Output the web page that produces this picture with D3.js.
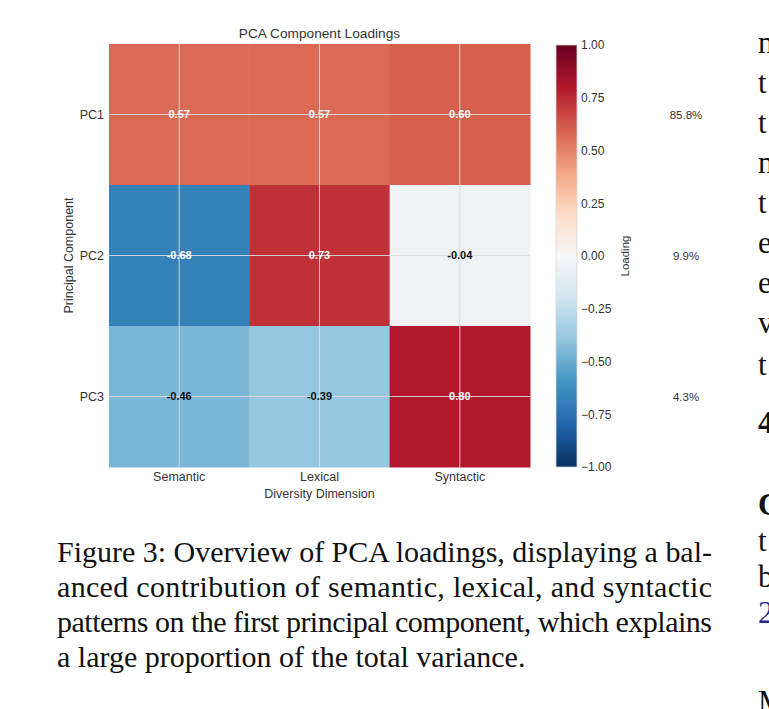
<!DOCTYPE html>
<html>
<head>
<meta charset="utf-8">
<script src="https://cdn.jsdelivr.net/npm/d3@7"></script>
<style>
  html, body { margin: 0; padding: 0; background: #ffffff; }
  svg { display: block; }
</style>
</head>
<body>
<svg id="chart" width="769" height="709"></svg>
<script>
// ---------- data ----------
const dimensions = ["Semantic", "Lexical", "Syntactic"];
const components = ["PC1", "PC2", "PC3"];
const pc1Loadings = [0.57, 0.57, 0.60];
const pc2Loadings = [-0.68, 0.73, -0.04];
const pc3Loadings = [-0.46, -0.39, 0.80];
const explainedVariance = ["85.8%", "9.9%", "4.3%"];
const colorbarTicks = [-1.00, -0.75, -0.50, -0.25, 0.00, 0.25, 0.50, 0.75, 1.00];
const titleText = "PCA Component Loadings";
const xLabel = "Diversity Dimension";
const yLabel = "Principal Component";
const cbLabel = "Loading";
const captionLines = [
  "Figure 3: Overview of PCA loadings, displaying a bal-",
  "anced contribution of semantic, lexical, and syntactic",
  "patterns on the first principal component, which explains",
  "a large proportion of the total variance."
];
const sideLetters = ["n", "t", "t", "n", "t", "e", "e", "v", "t", "4", "C", "t", "b", "2", "M"];

const loadingRows = [pc1Loadings, pc2Loadings, pc3Loadings];
const cells = [];
components.forEach((pc, i) => {
  dimensions.forEach((d, j) => cells.push({ pc, dim: d, value: loadingRows[i][j] }));
});

// ---------- layout ----------
const svg = d3.select("#chart");
const sans = "'Liberation Sans', Arial, sans-serif";
const serif = "'Liberation Serif', 'Times New Roman', serif";
const textColor = "#333333";

const hm = { left: 109, right: 530, top: 44, bottom: 467 };
const x = d3.scaleBand().domain(dimensions).range([hm.left, hm.right]);
const y = d3.scaleBand().domain(components).range([hm.top, hm.bottom]);

// matplotlib RdBu_r
const rdbu = ["#053061", "#2166ac", "#4393c3", "#92c5de", "#d1e5f0", "#f7f7f7",
              "#fddbc7", "#f4a582", "#d6604d", "#b2182b", "#67001f"];
const color = d3.scaleLinear()
  .domain(d3.range(11).map(i => -1 + i * 0.2))
  .range(rdbu)
  .interpolate(d3.interpolateRgb)
  .clamp(true);

// cells
svg.append("g").selectAll("rect").data(cells).join("rect")
  .attr("x", d => x(d.dim))
  .attr("y", d => y(d.pc))
  .attr("width", x.bandwidth() + 0.5)
  .attr("height", y.bandwidth() + 0.5)
  .attr("fill", d => color(d.value));

// grid lines at tick centres
const grid = svg.append("g").attr("stroke", "#dcdcdc").attr("stroke-width", 1).attr("opacity", 0.9);
dimensions.forEach(d => {
  const cx = x(d) + x.bandwidth() / 2;
  grid.append("line").attr("x1", cx).attr("x2", cx).attr("y1", hm.top).attr("y2", hm.bottom);
});
components.forEach(c => {
  const cy = y(c) + y.bandwidth() / 2;
  grid.append("line").attr("x1", hm.left).attr("x2", hm.right).attr("y1", cy).attr("y2", cy);
});

// annotations
svg.append("g").selectAll("text").data(cells).join("text")
  .attr("x", d => x(d.dim) + x.bandwidth() / 2)
  .attr("y", d => y(d.pc) + y.bandwidth() / 2)
  .attr("dy", "0.36em")
  .attr("text-anchor", "middle")
  .attr("font-family", sans)
  .attr("font-weight", "bold")
  .attr("font-size", 11)
  .attr("fill", d => Math.abs(d.value) > 0.5 ? "#ffffff" : "#111111")
  .text(d => d3.format(".2f")(d.value).replace("\u2212", "-"));

// axes
const yAxis = svg.append("g")
  .attr("transform", `translate(${hm.left},0)`)
  .call(d3.axisLeft(y).tickSize(0).tickPadding(5));
yAxis.select(".domain").remove();
yAxis.selectAll("text").attr("font-family", sans).attr("font-size", 12.5).attr("fill", textColor);

const xAxis = svg.append("g")
  .attr("transform", `translate(0,${hm.bottom})`)
  .call(d3.axisBottom(x).tickSize(0).tickPadding(5));
xAxis.select(".domain").remove();
xAxis.selectAll("text").attr("font-family", sans).attr("font-size", 12.5).attr("fill", textColor);

// title and labels
svg.append("text")
  .attr("x", (hm.left + hm.right) / 2).attr("y", 38)
  .attr("text-anchor", "middle")
  .attr("font-family", sans).attr("font-size", 13.7).attr("fill", textColor)
  .text(titleText);

svg.append("text")
  .attr("x", (hm.left + hm.right) / 2).attr("y", 498)
  .attr("text-anchor", "middle")
  .attr("font-family", sans).attr("font-size", 12.5).attr("fill", textColor)
  .text(xLabel);

svg.append("text")
  .attr("transform", `translate(73,${(hm.top + hm.bottom) / 2}) rotate(-90)`)
  .attr("text-anchor", "middle")
  .attr("font-family", sans).attr("font-size", 12.5).attr("fill", textColor)
  .text(yLabel);

// colorbar
const cb = { left: 556, width: 21, top: 45, bottom: 467 };
const cbScale = d3.scaleLinear().domain([-1, 1]).range([cb.bottom, cb.top]);
const defs = svg.append("defs");
const grad = defs.append("linearGradient").attr("id", "cbgrad")
  .attr("x1", 0).attr("y1", 1).attr("x2", 0).attr("y2", 0);
d3.range(0, 1.0001, 0.02).forEach(t => {
  grad.append("stop").attr("offset", t).attr("stop-color", color(-1 + 2 * t));
});
svg.append("rect")
  .attr("x", cb.left).attr("y", cb.top)
  .attr("width", cb.width).attr("height", cb.bottom - cb.top)
  .attr("fill", "url(#cbgrad)")
  .attr("stroke", "#d8d8d8").attr("stroke-width", 0.8);

const cbAxis = svg.append("g")
  .attr("transform", `translate(${cb.left + cb.width},0)`)
  .call(d3.axisRight(cbScale).tickValues(colorbarTicks).tickFormat(d3.format(".2f")).tickSize(0).tickPadding(4));
cbAxis.select(".domain").remove();
cbAxis.selectAll("text").attr("font-family", sans).attr("font-size", 12).attr("fill", textColor);

svg.append("text")
  .attr("transform", `translate(629,${(cb.top + cb.bottom) / 2}) rotate(-90)`)
  .attr("text-anchor", "middle")
  .attr("font-family", sans).attr("font-size", 11.5).attr("fill", textColor)
  .text(cbLabel);

// explained variance
svg.append("g").selectAll("text").data(components).join("text")
  .attr("x", 686)
  .attr("y", d => y(d) + y.bandwidth() / 2)
  .attr("dy", "0.35em")
  .attr("text-anchor", "middle")
  .attr("font-family", sans).attr("font-size", 11.5).attr("fill", textColor)
  .text((d, i) => explainedVariance[i]);

// caption
const capBase = [562, 597, 632, 667];
svg.append("g").selectAll("text").data(captionLines).join("text")
  .attr("x", 57)
  .attr("y", (d, i) => capBase[i])
  .attr("font-family", serif).attr("font-size", 30).attr("fill", "#111111")
  .attr("textLength", (d, i) => i < 3 ? 655 : null)
  .attr("lengthAdjust", "spacing")
  .text(d => d);

// right column (cut-off body text)
const sideBase = [53, 93, 133, 173, 213, 253, 293, 333, 375, 433, 515, 551, 587, 623, 712];
svg.append("g").selectAll("text").data(sideLetters).join("text")
  .attr("x", 758)
  .attr("y", (d, i) => sideBase[i])
  .attr("font-family", serif).attr("font-size", 31)
  .attr("font-weight", d => (d === "C" || d === "4") ? "bold" : "normal")
  .attr("fill", d => d === "2" ? "#1f2d8a" : "#111111")
  .text(d => d);
</script>
</body>
</html>
